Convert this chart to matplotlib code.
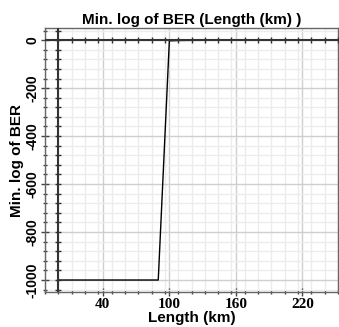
import matplotlib
matplotlib.use("Agg")
import matplotlib.pyplot as plt
import numpy as np

# data
length_km = [0, 10, 20, 30, 40, 50, 60, 70, 80, 90, 100, 110, 120, 130, 140,
             150, 160, 170, 180, 190, 200, 210, 220, 230, 240, 250]
min_log_ber = [-1000, -1000, -1000, -1000, -1000, -1000, -1000, -1000, -1000, -1000,
               -3, -1.5, -1, -0.8, -0.7, -0.6, -0.5, -0.5, -0.4, -0.4, -0.3, -0.3, -0.3, -0.3, -0.2, -0.2]
x_major = [40, 100, 160, 220]
y_major = [0, -200, -400, -600, -800, -1000]

fig = plt.figure(figsize=(3.39, 3.27), dpi=100)
ax = fig.add_axes([0.133, 0.107, 0.864, 0.807])
ax.set_xlim(-11.7, 252)
ax.set_ylim(-1050, 50)

x_minor = np.arange(-12, 253, 12)
y_minor = np.arange(-1040, 41, 40)
ax.set_xticks(x_major)
ax.set_xticks(x_minor, minor=True)
ax.set_yticks(y_major)
ax.set_yticks(y_minor, minor=True)

ax.grid(which="minor", color="#ececec", lw=1, zorder=0)
ax.grid(which="major", color="#cfcfcf", lw=1, zorder=0)

ax.plot(length_km, min_log_ber, color="black", lw=1, zorder=2)

# axis lines through the origin, with their own little ticks
ax.axhline(0, color="#333333", lw=1.5, zorder=3)
ax.axvline(0, color="#333333", lw=1.5, zorder=3)
xt = x_minor[x_minor > 0]
ax.plot(xt, np.zeros(len(xt)), ls="none",
        marker="|", ms=4, mew=1, color="#333333", zorder=3)
ax.plot(np.zeros(len(y_minor)), y_minor, ls="none",
        marker="_", ms=4, mew=1, color="#333333", zorder=3)

for s in ax.spines.values():
    s.set_linestyle((0, (1, 1)))
    s.set_color("#666666")
    s.set_linewidth(1)

ax.tick_params(which="major", direction="inout", length=6, width=1, color="#444444", pad=1)
ax.tick_params(which="minor", direction="inout", length=3, width=1, color="#444444")
ax.set_xticklabels([str(v) for v in x_major], fontfamily="Liberation Serif",
                   fontweight="bold", fontsize=11)
ax.set_yticklabels([str(v) for v in y_major], fontfamily="Liberation Sans",
                   fontweight="bold", fontsize=10, rotation=90, va="center")

ax.set_title("Min. log of BER (Length (km) )", fontfamily="Liberation Sans",
             fontweight="bold", fontsize=11, pad=3)
ax.set_xlabel("Length (km)", fontfamily="Liberation Sans", fontweight="bold",
              fontsize=11, labelpad=0)
ax.set_ylabel("Min. log of BER", fontfamily="Liberation Sans", fontweight="bold",
              fontsize=11, labelpad=1)

fig.savefig("out.png", dpi=100)
